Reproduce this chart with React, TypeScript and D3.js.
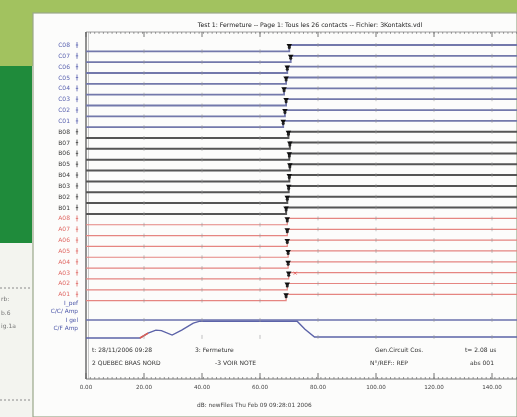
import React from 'react';
import * as d3 from 'd3';

const contactLabels = ['C08','C07','C06','C05','C04','C03','C02','C01','B08','B07','B06','B05','B04','B03','B02','B01','A08','A07','A06','A05','A04','A03','A02','A01'];
const closeTimes = [70.1,70.6,69.4,69.0,68.3,69.0,68.6,68.0, 69.8,70.3,70.1,70.3,70.1,69.9,69.4,69.0, 69.4,69.4,69.4,69.7,69.7,69.9,69.4,69.0];
const xTicks = [0,20,40,60,80,100,120,140];
const analogLabels = ['I_pef','C/C/ Amp','I gel','C/F Amp'];
const coilTime = [0, 18.6, 21.4, 24.1, 26.0, 29.7, 33.0, 37.0, 39.3, 72.8, 75.5, 78.8, 160];
const coilValue = [0, 0, 0.28, 0.45, 0.42, 0.17, 0.45, 0.85, 0.96, 0.96, 0.5, 0.06, 0.06];
const refTime = [0, 160];
const refValue = [1.03, 1.03];
const title = 'Test 1: Fermeture  -- Page 1: Tous les 26 contacts  -- Fichier: 3Kontakts.vdl';
const infoLeft = ['t: 28/11/2006 09:28', '2 QUEBEC  BRAS NORD'];
const infoMid = ['3: Fermeture', '-3 VOIR NOTE'];
const infoRight = ['Gen.Circuit Cos.', 'N°/REF:: REP'];
const infoFar = ['t= 2.08 us', 'abs 001'];
const caption = 'dB: newFiles    Thu Feb 09 09:28:01 2006';

const groupColor: Record<string, string> = { C: '#7378ab', B: '#555555', A: '#e58581' };
const labelColor: Record<string, string> = { C: '#5a63b0', B: '#3a3a3a', A: '#e06a66' };
const groupWidth: Record<string, number> = { C: 1.8, B: 2.0, A: 1.2 };

export default function App() {
  const W = 517, H = 417;
  const x = d3.scaleLinear().domain([0, 160]).range([86, 86 + 160 * 2.9]);
  const y = d3.scalePoint<string>().domain(contactLabels).range([45, 45 + 23 * 10.84]);
  const stepH = 6.3;
  const ay = d3.scaleLinear().domain([0, 1]).range([338, 320.5]);
  const font = 'DejaVu Sans, Liberation Sans, sans-serif';

  const step = d3.line<{ t: number; v: number }>()
    .x(d => x(d.t))
    .y(d => d.v)
    .curve(d3.curveStepAfter);

  const aLine = d3.line<[number, number]>().x(d => x(d[0])).y(d => ay(d[1]));
  const coil: [number, number][] = coilTime.map((t, i) => [t, coilValue[i]]);
  const ref: [number, number][] = refTime.map((t, i) => [t, refValue[i]]);
  const coilRed = coil.filter(d => d[0] >= 18.6 && d[0] <= 21.4);

  const minor = d3.range(0, 161, 1.5);
  const frameTop = 32, frameBottom = 379;
  const tri = d3.symbol().type(d3.symbolTriangle).size(13)();

  return (
    <svg width={W} height={H} style={{ position: 'absolute', left: 0, top: 0 }} fontFamily={font}>
      <defs>
        <filter id="soft" x="-5%" y="-5%" width="110%" height="110%">
          <feGaussianBlur stdDeviation="0.55" />
        </filter>
        <clipPath id="pg"><rect x={33} y={13} width={484} height={404} /></clipPath>
      </defs>
      {/* photo background */}
      <rect x={0} y={0} width={W} height={H} fill="#f3f4ef" />
      <rect x={0} y={0} width={W} height={14} fill="#a2c25f" />
      <rect x={0} y={0} width={33} height={66} fill="#a2c25f" />
      <rect x={0} y={66} width={32} height={177} fill="#1f8b3b" />
      <line x1={0} x2={32} y1={288} y2={288} stroke="#8a8a8a" strokeDasharray="2,2" />
      <line x1={0} x2={32} y1={400} y2={400} stroke="#8a8a8a" strokeDasharray="2,2" />
      <g fontSize={6} fill="#777" filter="url(#soft)">
        <text x={1} y={301}>rb:</text>
        <text x={1} y={315}>b.6</text>
        <text x={1} y={328}>ig.1a</text>
      </g>
      <rect x={33} y={13} width={484} height={404} fill="#fcfcfb" stroke="#9aa78a" strokeWidth={1.2} />
      <g clipPath="url(#pg)" filter="url(#soft)">
        <text x={310} y={27} fontSize={6.2} textAnchor="middle" fill="#222">{title}</text>
        {/* frame */}
        <line x1={86} x2={86} y1={frameTop} y2={frameBottom} stroke="#777" strokeWidth={1.6} />
        <line x1={88.5} x2={88.5} y1={frameTop} y2={frameBottom} stroke="#bbb" strokeWidth={0.8} />
        <line x1={86} x2={W} y1={frameTop} y2={frameTop} stroke="#888" strokeWidth={0.8} />
        <line x1={86} x2={W} y1={frameBottom} y2={frameBottom} stroke="#777" strokeWidth={1} />
        {minor.map(t => (
          <g key={'m' + t}>
            <line x1={x(t)} x2={x(t)} y1={frameTop} y2={frameTop + 1.8} stroke="#777" strokeWidth={0.8} />
            <line x1={x(t)} x2={x(t)} y1={frameBottom} y2={frameBottom - 2} stroke="#777" strokeWidth={0.8} />
          </g>
        ))}
        {xTicks.map(t => (
          <g key={'M' + t}>
            <line x1={x(t)} x2={x(t)} y1={frameTop} y2={frameTop + 5} stroke="#666" strokeWidth={0.9} />
            <line x1={x(t)} x2={x(t)} y1={frameBottom} y2={frameBottom - 6} stroke="#666" strokeWidth={0.9} />
            <text x={x(t)} y={389} fontSize={5.6} textAnchor="middle" fill="#444">{d3.format('.2f')(t)}</text>
          </g>
        ))}
        {/* digital contacts */}
        {contactLabels.map((lab, i) => {
          const g = lab[0];
          const yy = y(lab)!;
          const t = closeTimes[i];
          const d = step([{ t: 0, v: yy + stepH }, { t, v: yy }, { t: 160, v: yy }]);
          return (
            <g key={lab}>
              <text x={70} y={yy + 2} fontSize={6} textAnchor="end" fill={labelColor[g]}>{lab}</text>
              <line x1={77} x2={77} y1={yy - 3} y2={yy + 3} stroke={labelColor[g]} strokeWidth={0.8} />
              <line x1={75.8} x2={78.2} y1={yy} y2={yy} stroke={labelColor[g]} strokeWidth={0.8} />
              <path d={d || ''} fill="none" stroke={groupColor[g]} strokeWidth={groupWidth[g]} />
              {xTicks.slice(1).map(tt => {
                const lv = tt < t ? yy + stepH : yy;
                return <line key={tt} x1={x(tt)} x2={x(tt)} y1={lv - 2} y2={lv + 2} stroke="#999" strokeWidth={0.6} />;
              })}
              <path d={tri || ''} transform={`translate(${x(t)},${yy + 0.5}) rotate(180)`} fill="#111" />
              <circle cx={x(t)} cy={yy + 2.5} r={1.5} fill="#222" />
            </g>
          );
        })}
        <path d={`M${x(closeTimes[21]) + 5},${y('A03')! + 2} l3,-3 m-3,0 l3,3`} stroke="#e05050" strokeWidth={0.8} fill="none" />
        {/* analog channels */}
        {analogLabels.map((lab, i) => (
          <text key={lab} x={78} y={ay(1.03) - 15 + i * 8.3} fontSize={5.8} textAnchor="end" fill="#4a55a8">{lab}</text>
        ))}
        <path d={aLine(ref) || ''} fill="none" stroke="#6a70ad" strokeWidth={1.4} />
        <path d={aLine(coil) || ''} fill="none" stroke="#5c63a8" strokeWidth={1.4} />
        <path d={aLine(coilRed) || ''} fill="none" stroke="#e05a50" strokeWidth={1.6} />
        {xTicks.slice(1).map(tt => (
          <g key={'a' + tt}>
            <line x1={x(tt)} x2={x(tt)} y1={ay(1.03) - 2} y2={ay(1.03) + 2} stroke="#999" strokeWidth={0.6} />
            <line x1={x(tt)} x2={x(tt)} y1={ay(0.06) - 2} y2={ay(0.06) + 2} stroke="#999" strokeWidth={0.6} />
          </g>
        ))}
        {/* info text */}
        <g fontSize={6} fill="#333">
          <text x={92} y={352}>{infoLeft[0]}</text>
          <text x={92} y={365}>{infoLeft[1]}</text>
          <text x={195} y={352}>{infoMid[0]}</text>
          <text x={215} y={365}>{infoMid[1]}</text>
          <text x={375} y={352}>{infoRight[0]}</text>
          <text x={370} y={365}>{infoRight[1]}</text>
          <text x={465} y={352}>{infoFar[0]}</text>
          <text x={470} y={365}>{infoFar[1]}</text>
        </g>
        <text x={197} y={407} fontSize={5.8} fill="#444">{caption}</text>
      </g>
    </svg>
  );
}
